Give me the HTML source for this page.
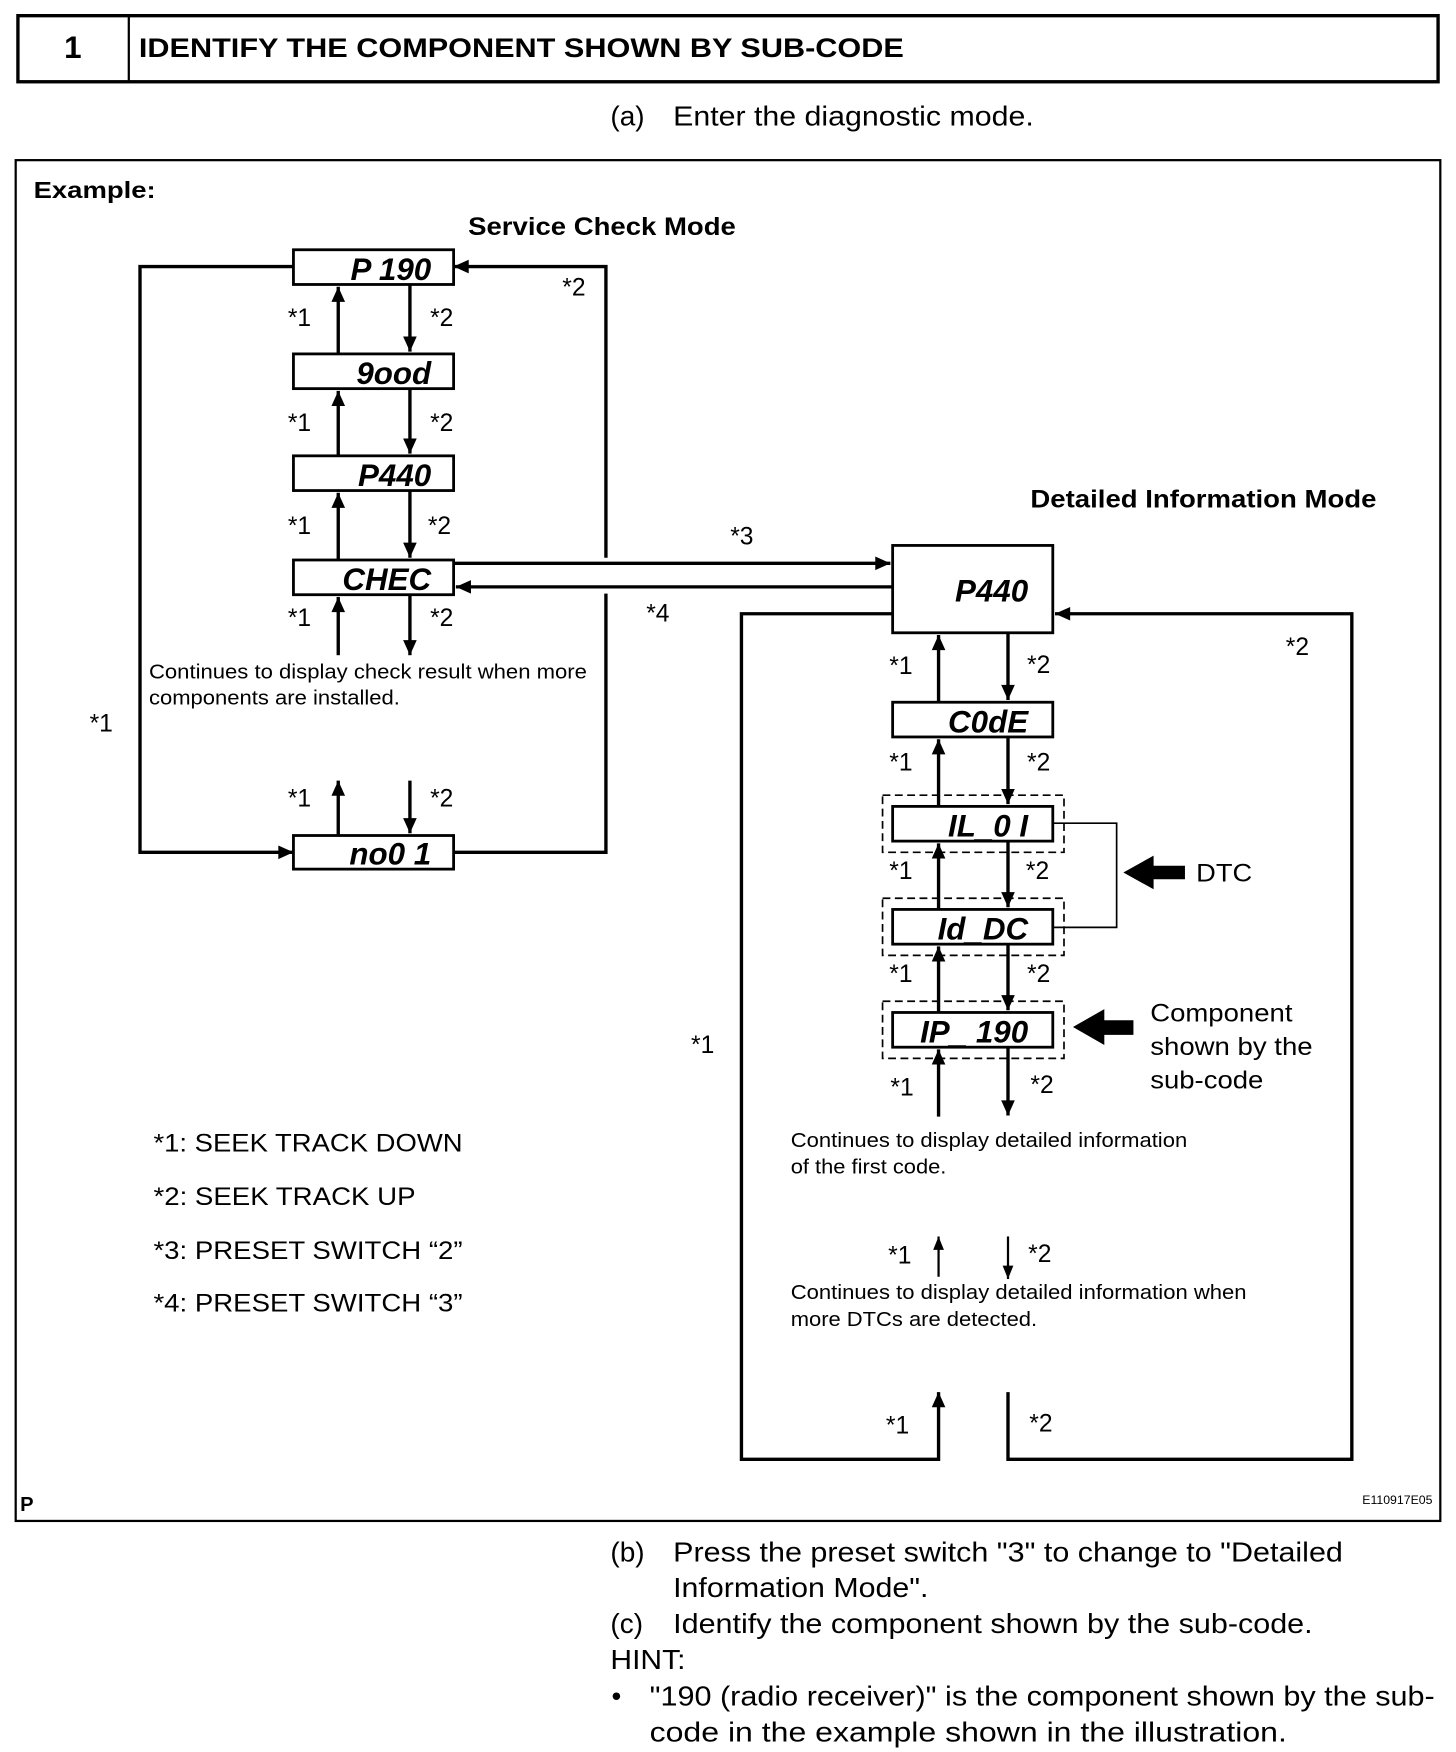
<!DOCTYPE html>
<html><head><meta charset="utf-8"><style>
html,body{margin:0;padding:0;background:#fff;}
svg{display:block;}
text{font-family:"Liberation Sans",sans-serif;fill:#000;}
.seg{font-style:italic;font-weight:bold;font-size:28px;text-anchor:end;}
.lb{font-size:22px;}
.sm{font-size:18px;}
.big{font-size:25px;}
</style></head><body>
<svg width="1456" height="1752" viewBox="0 0 1300 1564.3" xmlns="http://www.w3.org/2000/svg">
<defs>
<marker id="a" viewBox="0 0 10 10" refX="10" refY="5" markerWidth="5" markerHeight="4.5" orient="auto-start-reverse" markerUnits="strokeWidth"><path d="M0,0.5 L10,5 L0,9.5 z" fill="#000"/></marker>
<marker id="b" viewBox="0 0 10 10" refX="10" refY="5" markerWidth="7" markerHeight="6" orient="auto-start-reverse" markerUnits="strokeWidth"><path d="M0,1 L10,5 L0,9 z" fill="#000"/></marker>
</defs>
<rect x="16" y="14" width="1268" height="59" fill="none" stroke="#000" stroke-width="3"/>
<line x1="115" y1="14" x2="115" y2="73" stroke="#000" stroke-width="2"/>
<text x="65" y="52" font-size="28" font-weight="bold" text-anchor="middle">1</text>
<text x="124" y="51" font-size="24" font-weight="bold" textLength="683" lengthAdjust="spacingAndGlyphs">IDENTIFY THE COMPONENT SHOWN BY SUB-CODE</text>
<text x="545" y="112" class="big">(a)</text><text x="601" y="112" class="big" textLength="322" lengthAdjust="spacingAndGlyphs">Enter the diagnostic mode.</text>
<rect x="14" y="143" width="1272" height="1215" fill="none" stroke="#000" stroke-width="2"/>
<text x="30" y="177" font-size="21" font-weight="bold" textLength="109" lengthAdjust="spacingAndGlyphs">Example:</text>
<text x="418" y="210" font-size="22" font-weight="bold" textLength="239" lengthAdjust="spacingAndGlyphs">Service Check Mode</text>
<text x="920" y="453" font-size="22" font-weight="bold" textLength="309" lengthAdjust="spacingAndGlyphs">Detailed Information Mode</text>

<g stroke="#000" fill="none" stroke-width="3">
<polyline points="262,238 125,238 125,761 262,761" marker-end="url(#a)"/>
<polyline points="405,761 541,761 541,238 405,238" marker-end="url(#a)"/>
</g>
<rect x="537" y="498" width="8" height="32" fill="#fff"/>
<g stroke="#000" fill="#fff" stroke-width="2.5">
<rect x="262" y="223" width="143" height="31"/>
<rect x="262" y="316" width="143" height="31"/>
<rect x="262" y="407" width="143" height="31"/>
<rect x="262" y="500" width="143" height="31"/>
<rect x="262" y="746" width="143" height="30"/>
</g>
<text x="385" y="250" class="seg">P 190</text>
<text x="385" y="343" class="seg">9ood</text>
<text x="385" y="434" class="seg">P440</text>
<text x="385" y="527" class="seg">CHEC</text>
<text x="385" y="772" class="seg">no0 1</text>
<g stroke="#000" stroke-width="3" fill="none">
<line x1="302" y1="316" x2="302" y2="256" marker-end="url(#a)"/>
<line x1="366" y1="254" x2="366" y2="314" marker-end="url(#a)"/>
<line x1="302" y1="407" x2="302" y2="349" marker-end="url(#a)"/>
<line x1="366" y1="347" x2="366" y2="405" marker-end="url(#a)"/>
<line x1="302" y1="500" x2="302" y2="440" marker-end="url(#a)"/>
<line x1="366" y1="438" x2="366" y2="498" marker-end="url(#a)"/>
<line x1="302" y1="585" x2="302" y2="533" marker-end="url(#a)"/>
<line x1="366" y1="531" x2="366" y2="585" marker-end="url(#a)"/>
<line x1="302" y1="745" x2="302" y2="697" marker-end="url(#a)"/>
<line x1="366" y1="697" x2="366" y2="744" marker-end="url(#a)"/>
<line x1="405" y1="503" x2="795" y2="503" marker-end="url(#a)"/>
<line x1="797" y1="524" x2="407" y2="524" marker-end="url(#a)"/>
</g>
<text x="257" y="291" class="lb">*1</text><text x="384" y="291" class="lb">*2</text>
<text x="257" y="385" class="lb">*1</text><text x="384" y="385" class="lb">*2</text>
<text x="257" y="477" class="lb">*1</text><text x="382" y="477" class="lb">*2</text>
<text x="257" y="559" class="lb">*1</text><text x="384" y="559" class="lb">*2</text>
<text x="257" y="720" class="lb">*1</text><text x="384" y="720" class="lb">*2</text>
<text x="502" y="264" class="lb">*2</text>
<text x="80" y="653" class="lb">*1</text>
<text x="652" y="486" class="lb">*3</text>
<text x="577" y="555" class="lb">*4</text>
<text x="133" y="606" class="sm" textLength="391" lengthAdjust="spacingAndGlyphs">Continues to display check result when more</text>
<text x="133" y="629" class="sm" textLength="224" lengthAdjust="spacingAndGlyphs">components are installed.</text>

<g stroke="#000" fill="none" stroke-width="3">
<polyline points="797,548 662,548 662,1303 838,1303 838,1243" marker-end="url(#a)"/>
<polyline points="900,1243 900,1303 1207,1303 1207,548 942,548" marker-end="url(#a)"/>
</g>
<g stroke="#000" fill="none" stroke-width="1.5" stroke-dasharray="7,4">
<rect x="788" y="710" width="162" height="51"/>
<rect x="788" y="802" width="162" height="51"/>
<rect x="788" y="894" width="162" height="51"/>
</g>
<polyline points="940,735 997,735 997,828 940,828" fill="none" stroke="#000" stroke-width="1.5"/>
<g stroke="#000" fill="#fff" stroke-width="2.5">
<rect x="797" y="487" width="143" height="78"/>
<rect x="797" y="627" width="143" height="31"/>
<rect x="797" y="720" width="143" height="31"/>
<rect x="797" y="812" width="143" height="31"/>
<rect x="797" y="904" width="143" height="31"/>
</g>
<text x="918" y="537" class="seg">P440</text>
<text x="918" y="654" class="seg">C0dE</text>
<text x="918" y="747" class="seg">IL_0 I</text>
<text x="918" y="839" class="seg">Id_DC</text>
<text x="918" y="931" class="seg">IP_ 190</text>
<g stroke="#000" stroke-width="3" fill="none">
<line x1="838" y1="627" x2="838" y2="567" marker-end="url(#a)"/>
<line x1="900" y1="565" x2="900" y2="625" marker-end="url(#a)"/>
<line x1="838" y1="720" x2="838" y2="660" marker-end="url(#a)"/>
<line x1="900" y1="658" x2="900" y2="718" marker-end="url(#a)"/>
<line x1="838" y1="812" x2="838" y2="753" marker-end="url(#a)"/>
<line x1="900" y1="751" x2="900" y2="810" marker-end="url(#a)"/>
<line x1="838" y1="904" x2="838" y2="845" marker-end="url(#a)"/>
<line x1="900" y1="843" x2="900" y2="902" marker-end="url(#a)"/>
<line x1="838" y1="997" x2="838" y2="937" marker-end="url(#a)"/>
<line x1="900" y1="935" x2="900" y2="996" marker-end="url(#a)"/>
</g>
<g stroke="#000" stroke-width="2" fill="none">
<line x1="838" y1="1140" x2="838" y2="1104" marker-end="url(#b)"/>
<line x1="900" y1="1104" x2="900" y2="1142" marker-end="url(#b)"/>
</g>
<path d="M1003,779 L1030,764 L1030,773 L1058,773 L1058,785 L1030,785 L1030,794 z" fill="#000"/>
<path d="M958,917 L986,901 L986,911 L1012,911 L1012,924 L986,924 L986,933 z" fill="#000"/>
<text x="1068" y="787" class="lb" textLength="50" lengthAdjust="spacingAndGlyphs">DTC</text>
<text x="1027" y="912" class="lb" textLength="127" lengthAdjust="spacingAndGlyphs">Component</text>
<text x="1027" y="942" class="lb" textLength="145" lengthAdjust="spacingAndGlyphs">shown by the</text>
<text x="1027" y="972" class="lb" textLength="101" lengthAdjust="spacingAndGlyphs">sub-code</text>
<text x="794" y="602" class="lb">*1</text><text x="917" y="601" class="lb">*2</text>
<text x="794" y="688" class="lb">*1</text><text x="917" y="688" class="lb">*2</text>
<text x="794" y="785" class="lb">*1</text><text x="916" y="785" class="lb">*2</text>
<text x="794" y="877" class="lb">*1</text><text x="917" y="877" class="lb">*2</text>
<text x="795" y="978" class="lb">*1</text><text x="920" y="976" class="lb">*2</text>
<text x="793" y="1128" class="lb">*1</text><text x="918" y="1127" class="lb">*2</text>
<text x="791" y="1280" class="lb">*1</text><text x="919" y="1278" class="lb">*2</text>
<text x="1148" y="585" class="lb">*2</text>
<text x="617" y="940" class="lb">*1</text>
<text x="706" y="1024" class="sm" textLength="354" lengthAdjust="spacingAndGlyphs">Continues to display detailed information</text>
<text x="706" y="1048" class="sm" textLength="139" lengthAdjust="spacingAndGlyphs">of the first code.</text>
<text x="706" y="1160" class="sm" textLength="407" lengthAdjust="spacingAndGlyphs">Continues to display detailed information when</text>
<text x="706" y="1184" class="sm" textLength="220" lengthAdjust="spacingAndGlyphs">more DTCs are detected.</text>
<text x="137" y="1028" class="lb" textLength="276" lengthAdjust="spacingAndGlyphs">*1: SEEK TRACK DOWN</text>
<text x="137" y="1076" class="lb" textLength="234" lengthAdjust="spacingAndGlyphs">*2: SEEK TRACK UP</text>
<text x="137" y="1124" class="lb" textLength="276" lengthAdjust="spacingAndGlyphs">*3: PRESET SWITCH “2”</text>
<text x="137" y="1171" class="lb" textLength="276" lengthAdjust="spacingAndGlyphs">*4: PRESET SWITCH “3”</text>
<text x="18" y="1349" font-size="18" font-weight="bold">P</text>
<text x="1279" y="1343" font-size="11" text-anchor="end">E110917E05</text>
<text x="545" y="1394" class="big">(b)</text><text x="601" y="1394" class="big" textLength="598" lengthAdjust="spacingAndGlyphs">Press the preset switch "3" to change to "Detailed</text>
<text x="601" y="1426" class="big" textLength="228" lengthAdjust="spacingAndGlyphs">Information Mode".</text>
<text x="545" y="1458" class="big">(c)</text><text x="601" y="1458" class="big" textLength="571" lengthAdjust="spacingAndGlyphs">Identify the component shown by the sub-code.</text>
<text x="545" y="1490" class="big" textLength="67" lengthAdjust="spacingAndGlyphs">HINT:</text>
<text x="546" y="1523" class="big">•</text><text x="580" y="1523" class="big" textLength="701" lengthAdjust="spacingAndGlyphs">"190 (radio receiver)" is the component shown by the sub-</text>
<text x="580" y="1555" class="big" textLength="569" lengthAdjust="spacingAndGlyphs">code in the example shown in the illustration.</text>
</svg>
</body></html>
